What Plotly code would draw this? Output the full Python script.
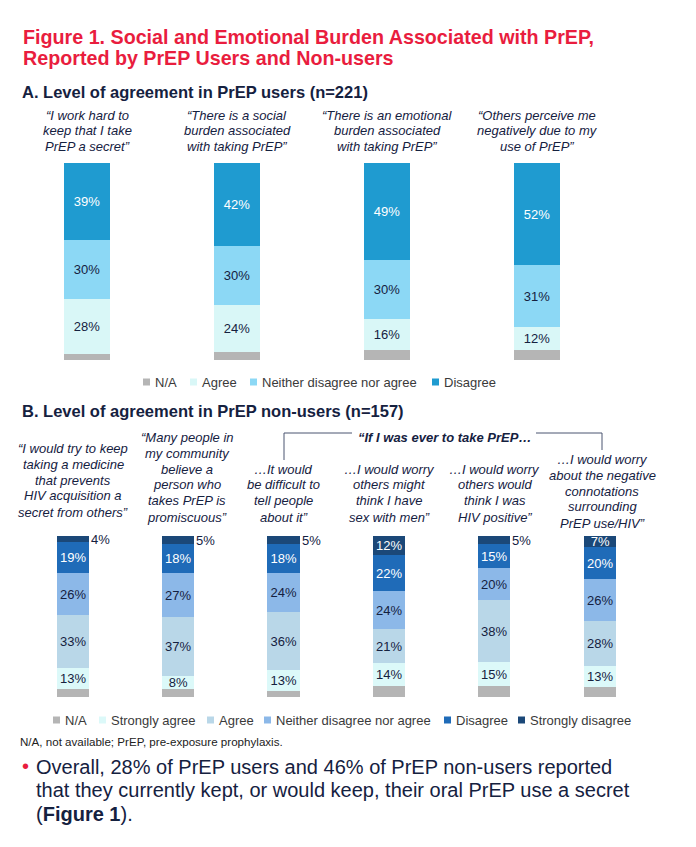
import plotly.graph_objects as go

W, H = 696, 847

# ---------------- data ----------------
A_questions = [
    ["\u201cI work hard to", "keep that I take", "PrEP a secret\u201d"],
    ["\u201cThere is a social", "burden associated", "with taking PrEP\u201d"],
    ["\u201cThere is an emotional", "burden associated", "with taking PrEP\u201d"],
    ["\u201cOthers perceive me", "negatively due to my", "use of PrEP\u201d"],
]
A_series = ["N/A", "Agree", "Neither disagree nor agree", "Disagree"]
A_agree = [28, 24, 16, 12]
A_neither = [30, 30, 30, 31]
A_disagree = [39, 42, 49, 52]
A_na = [100 - a - b - c for a, b, c in zip(A_agree, A_neither, A_disagree)]

B_questions = [
    ["\u201cI would try to keep", "taking a medicine", "that prevents", "HIV acquisition a", "secret from others\u201d"],
    ["\u201cMany people in", "my community", "believe a", "person who", "takes PrEP is", "promiscuous\u201d"],
    ["\u2026It would", "be difficult to", "tell people", "about it\u201d"],
    ["\u2026I would worry", "others might", "think I have", "sex with men\u201d"],
    ["\u2026I would worry", "others would", "think I was", "HIV positive\u201d"],
    ["\u2026I would worry", "about the negative", "connotations", "surrounding", "PrEP use/HIV\u201d"],
]
B_series = ["N/A", "Strongly agree", "Agree", "Neither disagree nor agree", "Disagree", "Strongly disagree"]
B_sa = [13, 8, 13, 14, 15, 13]
B_agree = [33, 37, 36, 21, 38, 28]
B_neither = [26, 27, 24, 24, 20, 26]
B_disagree = [19, 18, 18, 22, 15, 20]
B_sd = [4, 5, 5, 12, 5, 7]
B_na = [100 - a - b - c - d - e for a, b, c, d, e in zip(B_sa, B_agree, B_neither, B_disagree, B_sd)]

# ---------------- style ----------------
FONT = "Liberation Sans, Arial, sans-serif"
NAVY = "#15213f"
RED = "#e91d3e"
GRAY_TXT = "#3a3a3a"
A_colors = ["#b5b5b5", "#d9f7f7", "#8cd8f5", "#1f9bd0"]
A_txt = [NAVY, NAVY, NAVY, "white"]
B_colors = ["#b5b5b5", "#dcf9f9", "#b9d7e8", "#8cb8e8", "#1f6bb8", "#1b4878"]
B_txt = [NAVY, NAVY, NAVY, NAVY, "white", "white"]


def yp(px):
    return 1 - px / H


def xp(px):
    return px / W


fig = go.Figure()

# Panel A bars
A_vals = [A_na, A_agree, A_neither, A_disagree]
xa = list(range(len(A_agree)))
for k, (name, vals) in enumerate(zip(A_series, A_vals)):
    fig.add_trace(go.Bar(
        x=xa, y=vals, name=name, xaxis="x", yaxis="y",
        marker=dict(color=A_colors[k], line=dict(width=0)),
        width=0.307,
        text=[("" if k == 0 else f"{v}%") for v in vals],
        textposition="inside", insidetextanchor="middle", textangle=0,
        constraintext="none",
        textfont=dict(family=FONT, size=13, color=A_txt[k]),
        showlegend=False, hoverinfo="skip",
    ))

# Panel B bars
B_vals = [B_na, B_sa, B_agree, B_neither, B_disagree, B_sd]
xb = list(range(len(B_sa)))
SMALL = 5
for k, (name, vals) in enumerate(zip(B_series, B_vals)):
    texts = []
    for v in vals:
        if k == 0 or (k == 5 and v <= SMALL):
            texts.append("")
        else:
            texts.append(f"{v}%")
    fig.add_trace(go.Bar(
        x=xb, y=vals, name=name, xaxis="x2", yaxis="y2",
        marker=dict(color=B_colors[k], line=dict(width=0)),
        width=0.304,
        text=texts,
        textposition="inside", insidetextanchor="middle", textangle=0,
        constraintext="none",
        textfont=dict(family=FONT, size=13, color=B_txt[k]),
        showlegend=False, hoverinfo="skip",
    ))

ann = []
shapes = []


def txt(x, y, s, size, color=NAVY, xanchor="center"):
    ann.append(dict(
        x=xp(x), y=yp(y), xref="paper", yref="paper",
        text=s, showarrow=False, xanchor=xanchor, yanchor="middle",
        font=dict(family=FONT, size=size, color=color),
    ))


# outside labels for small "strongly disagree" segments
for i, v in enumerate(B_sd):
    if v <= SMALL:
        ann.append(dict(
            x=i + 0.15, y=100 - v / 2, xref="x2", yref="y2", text=f"{v}%",
            showarrow=False, xanchor="left", yanchor="middle",
            font=dict(family=FONT, size=13, color=NAVY),
        ))

# Title
txt(21, 37, "<b>Figure 1. Social and Emotional Burden Associated with PrEP,</b>", 19.7, RED, "left")
txt(21, 58, "<b>Reported by PrEP Users and Non-users</b>", 19.7, RED, "left")
txt(20, 92, "<b>A. Level of agreement in PrEP users (n=221)</b>", 16.5, NAVY, "left")
txt(20, 411, "<b>B. Level of agreement in PrEP non-users (n=157)</b>", 16.5, NAVY, "left")

# Panel A question texts
for i, lines in enumerate(A_questions):
    for j, line in enumerate(lines):
        ann.append(dict(
            x=i, y=yp(115 + j * 15.5), xref="x", yref="paper",
            text=f"<i>{line}</i>", showarrow=False, xanchor="center", yanchor="middle",
            font=dict(family=FONT, size=13, color=NAVY),
        ))

# Panel B question texts (bottom-aligned)
B_last_line = [512, 517, 517, 517, 517, 523]
B_shift = [0, 9, 0, 0, 0, 2]
for i, lines in enumerate(B_questions):
    n = len(lines)
    for j, line in enumerate(lines):
        ypx = B_last_line[i] - (n - 1 - j) * 16
        ann.append(dict(
            x=i, y=yp(ypx), xref="x2", yref="paper",
            text=f"<i>{line}</i>", showarrow=False, xanchor="center", yanchor="middle",
            font=dict(family=FONT, size=13, color=NAVY), xshift=B_shift[i],
        ))

# bracket header
txt(444, 437, "<b><i>\u201cIf I was ever to take PrEP\u2026</i></b>", 13, NAVY, "center")
LC = "#4a5570"
for (x0, y0, x1, y1) in [(284, 433, 284, 460), (284, 433, 352, 433), (536, 433, 602, 433), (602, 433, 602, 450)]:
    shapes.append(dict(type="line", xref="paper", yref="paper",
                       x0=xp(x0), y0=yp(y0), x1=xp(x1), y1=yp(y1),
                       line=dict(color=LC, width=1)))


# legends (manual)
def legend_row(items, y):
    for (sx, label, color) in items:
        shapes.append(dict(type="rect", xref="paper", yref="paper",
                           x0=xp(sx), x1=xp(sx + 7), y0=yp(y + 3.5), y1=yp(y - 3.5),
                           fillcolor=color, line=dict(width=0)))
        txt(sx + 9.5, y, label, 13, GRAY_TXT, "left")


legend_row([(143, A_series[0], A_colors[0]), (190, A_series[1], A_colors[1]),
            (250, A_series[2], A_colors[2]), (432, A_series[3], A_colors[3])], 382)
legend_row([(53, B_series[0], B_colors[0]), (99, B_series[1], B_colors[1]),
            (207, B_series[2], B_colors[2]), (264, B_series[3], B_colors[3]),
            (444, B_series[4], B_colors[4]), (518, B_series[5], B_colors[5])], 720)

# footnote
txt(18, 741, "N/A, not available; PrEP, pre-exposure prophylaxis.", 11.6, "#222222", "left")

# bullet
txt(20, 766, "\u2022", 20, RED, "left")
txt(34, 767, "Overall, 28% of PrEP users and 46% of PrEP non-users reported", 20, NAVY, "left")
txt(34, 790, "that they currently kept, or would keep, their oral PrEP use a secret", 20, NAVY, "left")
txt(34, 814, "(<b>Figure 1</b>).", 20, NAVY, "left")

axis_off = dict(showgrid=False, zeroline=False, showticklabels=False, ticks="", showline=False, fixedrange=True)
fig.update_layout(
    width=W, height=H, margin=dict(l=0, r=0, t=0, b=0),
    paper_bgcolor="white", plot_bgcolor="white",
    barmode="stack", bargap=0,
    xaxis=dict(domain=[xp(12), xp(612)], range=[-0.5, 3.5], **axis_off),
    yaxis=dict(domain=[yp(360), yp(163)], range=[0, 100], **axis_off),
    xaxis2=dict(domain=[xp(20.3), xp(652.7)], range=[-0.5, 5.5], anchor="y2", **axis_off),
    yaxis2=dict(domain=[yp(697), yp(536)], range=[0, 100], anchor="x2", **axis_off),
    annotations=ann, shapes=shapes, showlegend=False,
)

fig.write_html("out.html", config={"displayModeBar": False},
               post_script="document.body.style.margin='0';document.body.style.overflow='hidden';")
